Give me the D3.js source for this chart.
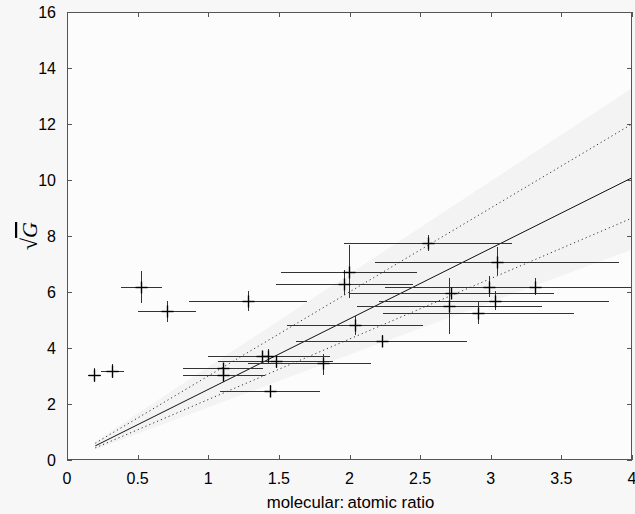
<!DOCTYPE html>
<html><head><meta charset="utf-8">
<script src="https://cdn.jsdelivr.net/npm/d3@7"></script>
<style>
html,body{margin:0;padding:0;background:#f7f7f7;}
svg{display:block;}
text{font-family:"Liberation Sans",Arial,sans-serif;fill:#000;}
</style></head>
<body>
<script>
// ---- data ----
const xVals = [0.19,0.316,0.526,0.705,1.283,1.105,1.105,1.378,1.425,1.48,1.815,1.437,1.996,1.963,2.039,2.228,2.553,2.72,2.705,2.988,3.042,3.027,2.912,3.315];
const yVals = [3.02,3.18,6.18,5.32,5.68,3.28,3.05,3.71,3.71,3.52,3.45,2.475,6.73,6.29,4.82,4.26,7.76,5.95,5.51,6.19,7.08,5.68,5.24,6.19];
const xLow  = [0.15,0.24,0.38,0.505,0.866,0.824,0.82,1.0,1.02,1.072,1.284,1.083,1.513,1.48,1.555,1.62,1.963,1.996,2.05,2.25,2.18,2.21,2.235,2.63];
const xHigh = [0.24,0.40,0.675,0.913,1.697,1.39,1.40,1.86,1.83,1.885,2.15,1.79,2.48,2.447,2.522,2.835,3.148,3.448,3.36,3.72,3.91,3.84,3.59,4.1];
const yLow  = [2.77,2.92,5.62,4.92,5.32,3.1,2.8,3.45,3.45,3.3,3.05,2.28,5.77,5.89,4.46,4.07,7.48,5.77,4.5,5.81,6.6,5.34,4.84,5.9];
const yHigh = [3.27,3.44,6.76,5.69,6.04,3.44,3.3,3.87,3.95,3.75,3.79,2.68,7.68,6.79,5.14,4.46,8.04,6.15,6.5,6.57,7.6,6.02,5.64,6.5];
const fitStart = 0.2, fitEnd = 4;
const fitSlope = 2.52, fitSlopeLow = 2.16, fitSlopeHigh = 3.0;
const bandSlopeLow = 1.88, bandSlopeHigh = 3.32;
const xTicks = [0,0.5,1,1.5,2,2.5,3,3.5,4];
const xTickLabels = ["0","0.5","1","1.5","2","2.5","3","3.5","4"];
const yTicks = [0,2,4,6,8,10,12,14,16];
const xLabel = "molecular:\u2009atomic ratio";

// ---- chart ----
const W = 635, H = 514;
const L = 67, R = 632, T = 12, B = 460;
const svg = d3.select("body").append("svg").attr("width", W).attr("height", H);
svg.append("rect").attr("width", W).attr("height", H).attr("fill", "#f7f7f7");

const x = d3.scaleLinear().domain([0,4]).range([L,R]);
const y = d3.scaleLinear().domain([0,16]).range([B,T]);

svg.append("rect").attr("x", L).attr("y", T).attr("width", R-L).attr("height", B-T).attr("fill", "#fcfcfc");
svg.append("clipPath").attr("id","clip").append("rect").attr("x", L).attr("y", T).attr("width", R-L).attr("height", B-T);
const g = svg.append("g").attr("clip-path","url(#clip)");

// band
const band = [[fitStart, bandSlopeLow*fitStart],[fitEnd, bandSlopeLow*fitEnd],[fitEnd, bandSlopeHigh*fitEnd],[fitStart, bandSlopeHigh*fitStart]];
g.append("path").attr("d", "M" + band.map(p => x(p[0]) + "," + y(p[1])).join("L") + "Z").attr("fill", "#f3f3f3");

function fitLine(s, dash, col) {
  g.append("line").attr("x1", x(fitStart)).attr("y1", y(s*fitStart)).attr("x2", x(fitEnd)).attr("y2", y(s*fitEnd))
   .attr("stroke", col).attr("stroke-width", 1).attr("stroke-dasharray", dash);
}
fitLine(fitSlopeHigh, "1.2,3", "#333");
fitLine(fitSlopeLow, "1.2,3", "#333");
fitLine(fitSlope, null, "#111");

// error bars
const pts = xVals.map((v,i) => ({x:v, y:yVals[i], xl:xLow[i], xh:xHigh[i], yl:yLow[i], yh:yHigh[i]}));
const eb = g.append("g").attr("stroke", "#333").attr("stroke-width", 1).attr("shape-rendering","crispEdges");
pts.forEach(p => {
  eb.append("line").attr("x1", x(p.xl)).attr("x2", x(p.xh)).attr("y1", Math.round(y(p.y))+0.5).attr("y2", Math.round(y(p.y))+0.5);
  eb.append("line").attr("y1", y(p.yl)).attr("y2", y(p.yh)).attr("x1", Math.round(x(p.x))+0.5).attr("x2", Math.round(x(p.x))+0.5);
});
const mk = g.append("g").attr("stroke", "#000").attr("stroke-width", 1.4);
const ms = 6;
pts.forEach(p => {
  const cx = Math.round(x(p.x))+0.5, cy = Math.round(y(p.y))+0.5;
  mk.append("line").attr("x1", cx-ms).attr("x2", cx+ms).attr("y1", cy).attr("y2", cy);
  mk.append("line").attr("x1", cx).attr("x2", cx).attr("y1", cy-ms).attr("y2", cy+ms);
});

// frame & ticks
const fr = svg.append("g").attr("stroke", "#555").attr("stroke-width", 1).attr("fill","none");
fr.append("rect").attr("x", L+0.5).attr("y", T+0.5).attr("width", R-L-1).attr("height", B-T-1);
const tl = 5;
xTicks.forEach(t => {
  const px = Math.round(x(t)) + 0.5;
  fr.append("line").attr("x1", px).attr("x2", px).attr("y1", B).attr("y2", B-tl);
  fr.append("line").attr("x1", px).attr("x2", px).attr("y1", T).attr("y2", T+tl);
});
yTicks.forEach(t => {
  const py = Math.round(y(t)) + 0.5;
  fr.append("line").attr("x1", L).attr("x2", L+tl).attr("y1", py).attr("y2", py);
  fr.append("line").attr("x1", R).attr("x2", R-tl).attr("y1", py).attr("y2", py);
});

// tick labels
svg.append("g").selectAll("text").data(xTicks).join("text")
  .attr("x", d => x(d)).attr("y", 484).attr("text-anchor","middle").attr("font-size", 16)
  .text((d,i) => xTickLabels[i]);
svg.append("g").selectAll("text").data(yTicks).join("text")
  .attr("x", 56).attr("y", d => y(d) + 6).attr("text-anchor","end").attr("font-size", 16)
  .text(d => d);

// axis labels
svg.append("text").attr("x", (L+R)/2 + 1).attr("y", 508).attr("text-anchor","middle").attr("font-size", 16.8).text(xLabel);
const yl = svg.append("text").attr("transform", "translate(37,236) rotate(-90)").attr("text-anchor","middle")
  .attr("font-size", 22).style("font-family", "'Liberation Serif','Times New Roman',serif");
yl.append("tspan").text("\u221A");
yl.append("tspan").attr("font-style","italic").style("text-decoration","overline").text("G");
</script>
</body></html>
